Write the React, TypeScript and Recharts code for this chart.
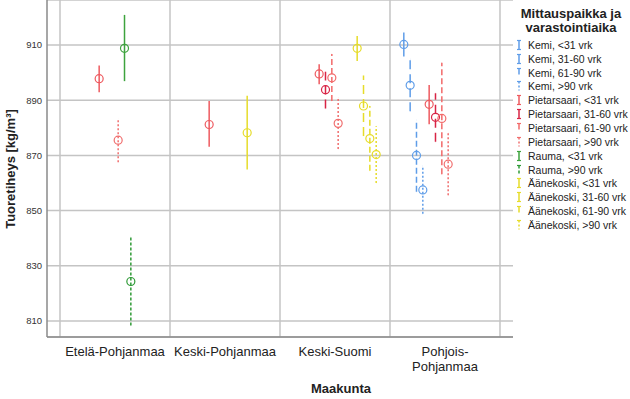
import React from 'react';
import {
  ComposedChart,
  Scatter,
  XAxis,
  YAxis,
  CartesianGrid,
  ReferenceLine,
  ErrorBar,
} from 'recharts';

const categories = ['Etelä-Pohjanmaa', 'Keski-Pohjanmaa', 'Keski-Suomi', 'Pohjois-Pohjanmaa'];

const seriesNames = [
  'Kemi, <31 vrk',
  'Kemi, 31-60 vrk',
  'Kemi, 61-90 vrk',
  'Kemi, >90 vrk',
  'Pietarsaari, <31 vrk',
  'Pietarsaari, 31-60 vrk',
  'Pietarsaari, 61-90 vrk',
  'Pietarsaari, >90 vrk',
  'Rauma, <31 vrk',
  'Rauma, >90 vrk',
  'Äänekoski, <31 vrk',
  'Äänekoski, 31-60 vrk',
  'Äänekoski, 61-90 vrk',
  'Äänekoski, >90 vrk',
];

const seriesColors = [
  '#5f9de8', '#5f9de8', '#5f9de8', '#5f9de8',
  '#ee5a5f', '#d82445', '#f26a6a', '#f06e6e',
  '#3da33d', '#2e9a36',
  '#e6dc2a', '#e6dc2a', '#e6dc2a', '#e6dc2a',
];

const seriesDash = [
  undefined, '9 5', '6 3', '2 2',
  undefined, '9 5', '6 3', '2 2',
  undefined, '3 2',
  undefined, '9 5', '6 3', '2 2',
];

type V = number | null;

// mean values per series, per category
const means: V[][] = [
  [null, null, null, 910.2],
  [null, null, null, 895.4],
  [null, null, null, 870.0],
  [null, null, null, 857.5],
  [897.8, 881.2, 899.5, 888.5],
  [null, null, 893.8, 883.8],
  [null, null, 898.1, 883.4],
  [875.5, null, 881.6, 866.8],
  [908.8, null, null, null],
  [824.3, null, null, null],
  [null, 878.2, 908.8, null],
  [null, null, 887.9, null],
  [null, null, 876.1, null],
  [null, null, 870.3, null],
];

const lows: V[][] = [
  [null, null, null, 905.8],
  [null, null, null, 886.0],
  [null, null, null, 856.8],
  [null, null, null, 848.9],
  [892.9, 873.1, 895.8, 881.3],
  [null, null, 887.0, 874.9],
  [null, null, 889.7, 863.2],
  [867.5, null, 872.3, 855.6],
  [896.9, null, null, null],
  [808.4, null, null, null],
  [null, 864.9, 904.2, null],
  [null, null, 877.0, null],
  [null, null, 864.4, null],
  [null, null, 860.0, null],
];

const highs: V[][] = [
  [null, null, null, 914.5],
  [null, null, null, 904.8],
  [null, null, null, 882.8],
  [null, null, null, 866.2],
  [902.6, 889.7, 903.0, 895.5],
  [null, null, 900.3, 892.5],
  [null, null, 906.7, 903.6],
  [883.4, null, 890.9, 878.0],
  [920.9, null, null, null],
  [840.7, null, null, null],
  [null, 891.6, 913.3, null],
  [null, null, 898.9, null],
  [null, null, 887.9, null],
  [null, null, 880.6, null],
];

const yTicks = [810, 830, 850, 870, 890, 910];

const CLUSTER_STEP = 0.0576;
const FONT = '"Liberation Sans", Arial, sans-serif';
const GRID = '#c4c4c4';

const seriesData = seriesNames.map((_, i) =>
  means[i]
    .map((m, c) => {
      if (m == null) return null;
      const lo = lows[i][c] as number;
      const hi = highs[i][c] as number;
      return { x: c + 1 + (i - 6.5) * CLUSTER_STEP, y: m, err: [m - lo, hi - m] };
    })
    .filter((d) => d !== null)
);

const XTick = (props: any) => {
  const { x, y, payload } = props;
  const label = categories[payload.value - 1] ?? '';
  const lines = label === 'Pohjois-Pohjanmaa' ? ['Pohjois-', 'Pohjanmaa'] : [label];
  return (
    <text x={x} y={y} textAnchor="middle" fontFamily={FONT} fontSize={13} fill="#222">
      {lines.map((l, k) => (
        <tspan key={k} x={x} dy={k === 0 ? 19 : 15}>
          {l}
        </tspan>
      ))}
    </text>
  );
};

const LegendBox = () => (
  <div style={{ position: 'absolute', left: 490, top: 0, width: 140, fontFamily: FONT, color: '#222' }}>
    <div
      style={{
        fontWeight: 'bold',
        fontSize: 13,
        textAlign: 'center',
        lineHeight: '14px',
        paddingTop: 7,
        width: 160,
        marginLeft: 1,
      }}
    >
      Mittauspaikka ja
      <br />
      varastointiaika
    </div>
    <div style={{ marginTop: 3 }}>
      {seriesNames.map((n, i) => (
        <div
          key={n}
          style={{ display: 'flex', alignItems: 'center', height: 13.85, fontSize: 10.5, whiteSpace: 'nowrap' }}
        >
          <svg width={10} height={12} style={{ marginLeft: 24, marginRight: 4 }}>
            <line x1={5} y1={1.5} x2={5} y2={10.5} stroke={seriesColors[i]} strokeWidth={1.5} strokeDasharray={seriesDash[i]} />
            <line x1={3} y1={1.5} x2={7} y2={1.5} stroke={seriesColors[i]} strokeWidth={1.2} />
            {!seriesDash[i] || seriesDash[i] === '9 5' ? (
              <line x1={3} y1={10.5} x2={7} y2={10.5} stroke={seriesColors[i]} strokeWidth={1.2} />
            ) : null}
          </svg>
          <span>{n}</span>
        </div>
      ))}
    </div>
  </div>
);

export default function App() {
  return (
    <div style={{ position: 'absolute', left: 0, top: 0, width: 630, height: 399, background: '#fff' }}>
      <ComposedChart width={630} height={399} margin={{ top: 0, right: 117, bottom: 0, left: 0 }}>
        <CartesianGrid horizontal vertical={false} stroke={GRID} strokeWidth={1.5} />
        <XAxis
          type="number"
          dataKey="x"
          domain={[0.3818, 4.6182]}
          ticks={[1, 2, 3, 4]}
          allowDataOverflow
          height={62}
          tickLine={false}
          tickSize={0}
          tickMargin={0}
          tick={<XTick />}
          stroke="#8a8a8a"
          strokeWidth={1.5}
          label={{
            content: () => (
              <text x={341} y={393} textAnchor="middle" fontFamily={FONT} fontSize={13} fontWeight="bold" fill="#222">
                Maakunta
              </text>
            ),
          }}
        />
        <YAxis
          type="number"
          dataKey="y"
          domain={[804.2, 926.3]}
          ticks={yTicks}
          allowDataOverflow
          width={47}
          tickLine={false}
          tickSize={0}
          tickMargin={5}
          tick={{ fontFamily: FONT, fontSize: 9.5, fill: '#333' }}
          stroke="#8a8a8a"
          strokeWidth={1.5}
          label={{
            content: () => (
              <text
                transform="translate(15,169) rotate(-90)"
                textAnchor="middle"
                fontFamily={FONT}
                fontSize={13}
                fontWeight="bold"
                fill="#222"
              >
                Tuoretiheys [kg/m³]
              </text>
            ),
          }}
        />
        {[0.5, 1.5, 2.5, 3.5, 4.5].map((v) => (
          <ReferenceLine key={v} x={v} stroke={GRID} strokeWidth={1.5} />
        ))}
        {seriesNames.map((n, i) => (
          <Scatter
            key={n}
            name={n}
            data={seriesData[i] as any[]}
            isAnimationActive={false}
            shape={(p: any) => (
              <circle cx={p.cx} cy={p.cy} r={4} fill="none" stroke={seriesColors[i]} strokeWidth={1.2} />
            )}
          >
            <ErrorBar
              dataKey="err"
              direction="y"
              width={0}
              stroke={seriesColors[i]}
              strokeWidth={1.5}
              strokeDasharray={seriesDash[i]}
              isAnimationActive={false}
            />
          </Scatter>
        ))}
      </ComposedChart>
      <LegendBox />
    </div>
  );
}
